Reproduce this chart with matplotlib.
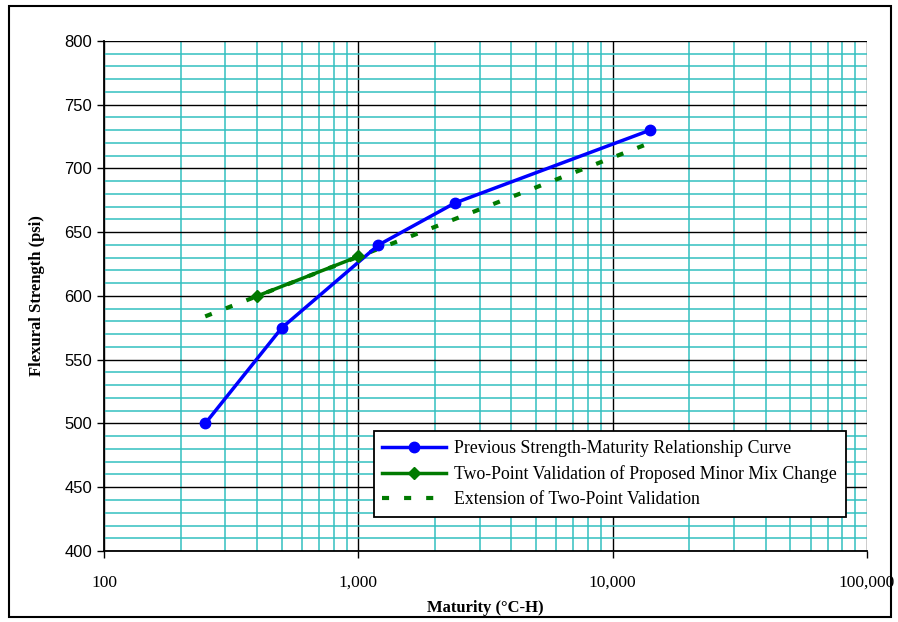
import numpy as np
import matplotlib.pyplot as plt
from matplotlib.patches import Rectangle
from matplotlib.ticker import FixedLocator, LogLocator, MultipleLocator, FuncFormatter, NullFormatter

# data
prev_x = [250, 500, 1200, 2400, 14000]
prev_y = [500, 575, 640, 673, 730]

val_x = [400, 1000]
val_y = [600, 631]

ext_x = [250, 14000]
ext_y = [584, 720]

labels = ['Previous Strength-Maturity Relationship Curve',
          'Two-Point Validation of Proposed Minor Mix Change',
          'Extension of Two-Point Validation']

serif = 'Liberation Serif'
sans = 'Liberation Sans'
cyan = '#33c0c0'

fig = plt.figure(figsize=(8.98, 6.22), dpi=100)
fig.patches.append(Rectangle((9/898, 1-617/622), 882/898, 611/622, transform=fig.transFigure,
                             fill=False, edgecolor='black', linewidth=1.5))

ax = fig.add_axes([104/898, 71/622, 763/898, 510/622])
ax.set_xscale('log')
ax.set_xlim(100, 100000)
ax.set_ylim(400, 800)

ax.xaxis.set_major_locator(FixedLocator([100, 1000, 10000, 100000]))
ax.xaxis.set_minor_locator(LogLocator(base=10, subs=np.arange(2, 10)))
ax.xaxis.set_major_formatter(FuncFormatter(lambda v, p: '{:,.0f}'.format(v)))
ax.xaxis.set_minor_formatter(NullFormatter())
ax.yaxis.set_major_locator(MultipleLocator(50))
ax.yaxis.set_minor_locator(MultipleLocator(10))

ax.grid(which='minor', color=cyan, linewidth=1.1)
ax.grid(which='major', color='black', linewidth=1.0)
ax.set_axisbelow(True)

for s in ['top', 'right']:
    ax.spines[s].set_visible(False)
ax.spines['left'].set_linewidth(1.3)
ax.spines['bottom'].set_linewidth(1.3)

ax.tick_params(which='minor', length=0)
ax.tick_params(which='major', length=5, width=1, direction='out')
ax.tick_params(axis='x', pad=12)
for t in ax.get_xticklabels():
    t.set_fontfamily(serif)
    t.set_fontsize(12.5)
for t in ax.get_yticklabels():
    t.set_fontfamily(sans)
    t.set_fontsize(12)

ax.plot(prev_x, prev_y, color='#0000ff', linewidth=2.5, marker='o', markersize=7.5,
        label=labels[0], zorder=4, clip_on=False)
ax.plot(val_x, val_y, color='#007a00', linewidth=2.5, marker='D', markersize=6,
        label=labels[1], zorder=5, clip_on=False)
ax.plot(ext_x, ext_y, color='#007a00', linewidth=3, linestyle=(0, (1.7, 3.6)),
        label=labels[2], zorder=3)

ax.set_xlabel('Maturity (\u00b0C-H)', fontfamily=serif, fontsize=12, fontweight='bold', labelpad=7)
ax.set_ylabel('Flexural Strength (psi)', fontfamily=serif, fontsize=12, fontweight='bold', labelpad=14)

leg = ax.legend(loc='lower right', bbox_to_anchor=(855/898, 96/622), bbox_transform=fig.transFigure,
                prop={'family': serif, 'size': 12.8}, frameon=True, fancybox=False,
                edgecolor='black', framealpha=1, handlelength=3.6, handletextpad=0.45,
                borderpad=0.5, labelspacing=0.45)
leg.get_frame().set_linewidth(1.3)

fig.savefig('out.png', dpi=100)
